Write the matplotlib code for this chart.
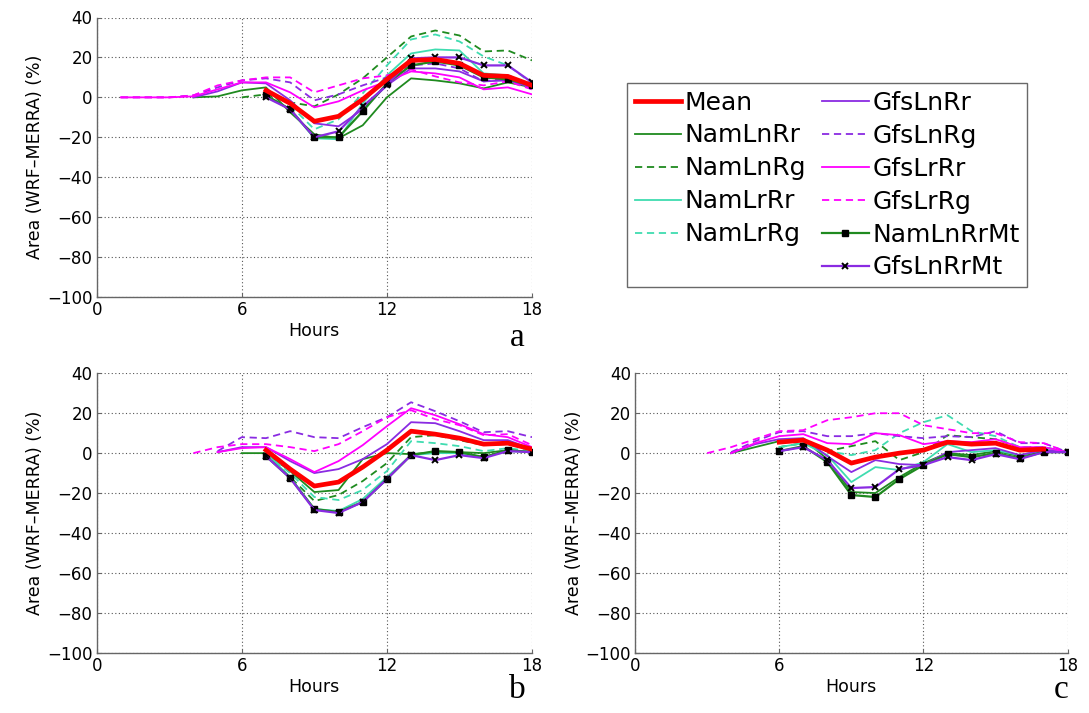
import numpy as np
import matplotlib
matplotlib.use("Agg")
import matplotlib.pyplot as plt
from matplotlib.lines import Line2D

N = np.nan
hours = list(range(19))

series_names = ["Mean", "NamLnRr", "NamLnRg", "NamLrRr", "NamLrRg",
                "GfsLnRr", "GfsLnRg", "GfsLrRr", "GfsLrRg", "NamLnRrMt", "GfsLnRrMt"]

# ---------------- panel a ----------------
mean_a      = [N, N, N, N, N, N, N, 3.5, -3, -12, -9.5, -1, 9, 18.5, 19, 17, 11, 10.5, 6]
namlnrr_a   = [N, N, N, N, 0, 0.5, 3.5, 5, -7.5, -18.5, -20.5, -14, 0, 9.5, 8.5, 7, 4.5, 7.5, 5]
namlnrg_a   = [N, N, N, N, N, N, 0, 1.5, -2.5, -4.5, 1.5, 9.5, 20, 30.5, 33.5, 31, 23, 23.5, 18.5]
namlrrr_a   = [N, N, N, N, N, N, N, 1, -6, -20.5, -21, -3, 11, 22, 24, 23.5, 12, 11, 6]
namlrrg_a   = [N, N, N, N, N, N, N, N, -4, -16, -11, 2, 16, 29, 31.5, 28, 20.5, 16, 7]
gfslnrr_a   = [N, N, N, N, 0, 3, 7.5, 7, -1.5, -13, -14.5, -6, 6, 14.5, 14.5, 13, 8, 8.5, 5]
gfslnrg_a   = [N, 0, 0, 0, 1, 5, 8.5, 9.5, 7.5, -1.5, 1.5, 6, 10, 16, 17, 14.5, 8, 9.5, 6]
gfslrrr_a   = [N, 0, 0, 0, 0.5, 4, 7.5, 7.5, 2.5, -5, -2, 3.5, 8, 13, 12, 10, 4, 5, 1.5]
gfslrrg_a   = [N, 0, 0, 0, 1, 6, 8.5, 10, 10, 2.5, 6, 9.5, 11, 14, 10.5, 7.5, 6, 8, 4]
namlnrrmt_a = [N, N, N, N, N, N, N, 1, -6, -20, -20, -7, 7, 16, 18, 16, 10, 9, 6]
gfslnrrmt_a = [N, N, N, N, N, N, N, 0, -6, -20, -17, -4.5, 6, 19.5, 20, 20, 16, 16, 7.5]

# ---------------- panel b ----------------
mean_b      = [N, N, N, N, N, N, N, 1.5, -8, -16.5, -14.5, -7, 1.5, 11, 9.5, 7.5, 4.5, 5, 2]
namlnrr_b   = [N, N, N, N, N, N, 0, 0, -9, -19.5, -18.5, -3, 0, -0.5, 0.5, 0.5, 0, 1.5, 0.5]
namlnrg_b   = [N, N, N, N, N, N, N, 0, -12, -24, -21, -14, -5, 8, 9, 6.5, 4, 4.5, 1.5]
namlrrr_b   = [N, N, N, N, N, N, N, 0, -12, -28, -29, -23, -12, -1, 0, 0, -2, 1, 0.5]
namlrrg_b   = [N, N, N, N, N, N, N, 0, -10, -22, -23.5, -18.5, -9, 6, 5, 3.5, 1, 2.5, 1]
gfslnrr_b   = [N, N, N, N, N, 0.5, 3, 3, -4, -10, -8, -3, 4.5, 15.5, 15, 11, 6.5, 6.5, 2]
gfslnrg_b   = [N, N, N, N, N, 1, 8, 7.5, 11, 8, 7.5, 13, 18, 25.5, 21, 16, 10.5, 11, 8]
gfslrrr_b   = [N, N, N, N, N, 0.5, 2.5, 3, -3, -9.5, -4, 4, 13.5, 22.5, 19, 14.5, 9.5, 8, 3]
gfslrrg_b   = [N, N, N, N, 0, 3, 4.5, 4.5, 3, 1, 4.5, 11, 18, 21.5, 17, 14, 9, 9.5, 4]
namlnrrmt_b = [N, N, N, N, N, N, N, -1.5, -12.5, -28, -29.5, -24.5, -13, -1, 1, 0.5, -2, 1.5, 0.5]
gfslnrrmt_b = [N, N, N, N, N, N, N, -1.5, -12.5, -28.5, -30, -24.5, -13, -1, -3.5, -1, -2.5, 1, 0.5]

# ---------------- panel c ----------------
mean_c      = [N, N, N, N, N, N, 5.5, 6.5, 1.5, -5, -2, 0, 1.5, 5.5, 4.5, 5, 1.5, 2, N]
namlnrr_c   = [N, N, N, N, 0, 3, 6, 7, -3, -19.5, -20, -12, -5, 0, -1, 1, -1.5, 1, 0.5]
namlnrg_c   = [N, N, N, N, N, N, 3, 5, 1, 3.5, 6, -3.5, 0.5, 9, 8, 7, 3, 3, 0.5]
namlrrr_c   = [N, N, N, N, N, N, 3, 5, -1, -14.5, -7, -8.5, -4.5, 4.5, 0.5, 1.5, -1, 1.5, 0.5]
namlrrg_c   = [N, N, N, N, N, N, 3, 5, 1, -1, 1.5, 10, 15.5, 19, 11, 8.5, 3, 3, 0.5]
gfslnrr_c   = [N, N, N, N, 0, 4.5, 7, 7.5, -1.5, -9.5, -3.5, -5.5, -6, 0.5, 1.5, 2.5, -1, 1.5, 0.5]
gfslnrg_c   = [N, N, N, N, 0.5, 6, 10.5, 11, 8.5, 8.5, 10, 8.5, 7.5, 8.5, 8, 11, 5, 5, 0.5]
gfslrrr_c   = [N, N, N, N, 0, 5, 8.5, 9.5, 5, 4.5, 10, 9, 4.5, 6, 5.5, 7, 3, 3, 0.5]
gfslrrg_c   = [N, N, N, 0, 3, 7, 11, 11.5, 16.5, 18, 20, 20, 14, 12, 10, 10, 5.5, 5, 0.5]
namlnrrmt_c = [N, N, N, N, N, N, 1, 3.5, -4.5, -21, -22, -13, -6, -0.5, -2, 0, -2.5, 0.5, 0.5]
gfslnrrmt_c = [N, N, N, N, N, N, 1, 3, -3.5, -17.5, -17, -8, -6, -2, -3.5, -0.5, -3, 0.5, 0.5]

xticks = [0, 6, 12, 18]
yticks = [-100, -80, -60, -40, -20, 0, 20, 40]
ylabel_text = "Area (WRF\u2013MERRA) (%)"
xlabel_text = "Hours"
panel_letters = ["a", "b", "c"]

panel_a = [mean_a, namlnrr_a, namlnrg_a, namlrrr_a, namlrrg_a, gfslnrr_a, gfslnrg_a,
           gfslrrr_a, gfslrrg_a, namlnrrmt_a, gfslnrrmt_a]
panel_b = [mean_b, namlnrr_b, namlnrg_b, namlrrr_b, namlrrg_b, gfslnrr_b, gfslnrg_b,
           gfslrrr_b, gfslrrg_b, namlnrrmt_b, gfslnrrmt_b]
panel_c = [mean_c, namlnrr_c, namlnrg_c, namlrrr_c, namlrrg_c, gfslnrr_c, gfslnrg_c,
           gfslrrr_c, gfslrrg_c, namlnrrmt_c, gfslnrrmt_c]

# ---------------- styles ----------------
GREEN = "#1f8a1f"
TEAL = "#3fdcb0"
PURPLE = "#8a2be2"
MAGENTA = "#ff00ff"
DASH = (0, (4, 2.6))
styles = {
    "Mean": dict(color="red", lw=3.4, zorder=6),
    "NamLnRr": dict(color=GREEN, lw=1.3, ls="-", zorder=3),
    "NamLnRg": dict(color=GREEN, lw=1.3, ls=DASH, zorder=3),
    "NamLrRr": dict(color=TEAL, lw=1.3, ls="-", zorder=3),
    "NamLrRg": dict(color=TEAL, lw=1.3, ls=DASH, zorder=3),
    "GfsLnRr": dict(color=PURPLE, lw=1.3, ls="-", zorder=3),
    "GfsLnRg": dict(color=PURPLE, lw=1.3, ls=DASH, zorder=3),
    "GfsLrRr": dict(color=MAGENTA, lw=1.3, ls="-", zorder=3),
    "GfsLrRg": dict(color=MAGENTA, lw=1.3, ls=DASH, zorder=3),
    "NamLnRrMt": dict(color=GREEN, lw=1.6, ls="-", marker="s", ms=3.8,
                      mfc="black", mec="black", zorder=5),
    "GfsLnRrMt": dict(color=PURPLE, lw=1.6, ls="-", marker="x", ms=4.2,
                      mec="black", mew=1.4, zorder=5),
}

plt.rcParams["font.family"] = ["DejaVu Sans"]
fig = plt.figure(figsize=(10.89, 7.13), dpi=100)

W, H = 1089.0, 713.0
def rect(l, r, t, b):
    return [l / W, 1 - b / H, (r - l) / W, (b - t) / H]

axes_rects = [rect(96.7, 532, 17.5, 297), rect(96.7, 532, 373.3, 652.7),
              rect(635, 1067.7, 373.3, 652.7)]
letter_pos = [(517, 338), (517, 690), (1061, 690)]

handles = {}
for rr, data, letter, lp in zip(axes_rects, [panel_a, panel_b, panel_c], panel_letters, letter_pos):
    ax = fig.add_axes(rr)
    for name, vals in zip(series_names, data):
        ln, = ax.plot(hours, vals, label=name, **styles[name])
        handles[name] = ln
    ax.set_xlim(0, 18)
    ax.set_ylim(-100, 40)
    ax.set_xticks(xticks)
    ax.set_yticks(yticks)
    ax.grid(True, ls=(0, (1, 2.2)), color="#555555", lw=0.8)
    ax.set_axisbelow(True)
    for s in ["top", "right"]:
        ax.spines[s].set_visible(False)
    for s in ["left", "bottom"]:
        ax.spines[s].set_color("#666666")
        ax.spines[s].set_linewidth(1.0)
    ax.tick_params(direction="in", length=3, color="#666666", labelsize=12, pad=3)
    ax.set_xlabel(xlabel_text, fontsize=12.5, labelpad=2)
    ax.set_ylabel(ylabel_text, fontsize=12.5, labelpad=2)
    fig.text(lp[0] / W, 1 - lp[1] / H, letter, fontfamily="Liberation Serif",
             fontsize=24, ha="center", va="center")

blank = Line2D([], [], color="none")
order1 = ["Mean", "NamLnRr", "NamLnRg", "NamLrRr", "NamLrRg"]
order2 = ["GfsLnRr", "GfsLnRg", "GfsLrRr", "GfsLrRg", "NamLnRrMt", "GfsLnRrMt"]
leg_handles = [handles[n] for n in order1] + [blank] + [handles[n] for n in order2]
leg_labels = order1 + [""] + order2
leg = fig.legend(leg_handles, leg_labels, loc="upper left",
                 bbox_to_anchor=(627 / W, 1 - 83 / H), ncol=2, frameon=True,
                 fancybox=False, edgecolor="#444444", fontsize=18,
                 handlelength=1.85, handletextpad=0.15, columnspacing=0.65,
                 labelspacing=0.36, borderpad=0.3, borderaxespad=0)
leg.get_frame().set_linewidth(1.0)

fig.savefig("out.png", dpi=100)
